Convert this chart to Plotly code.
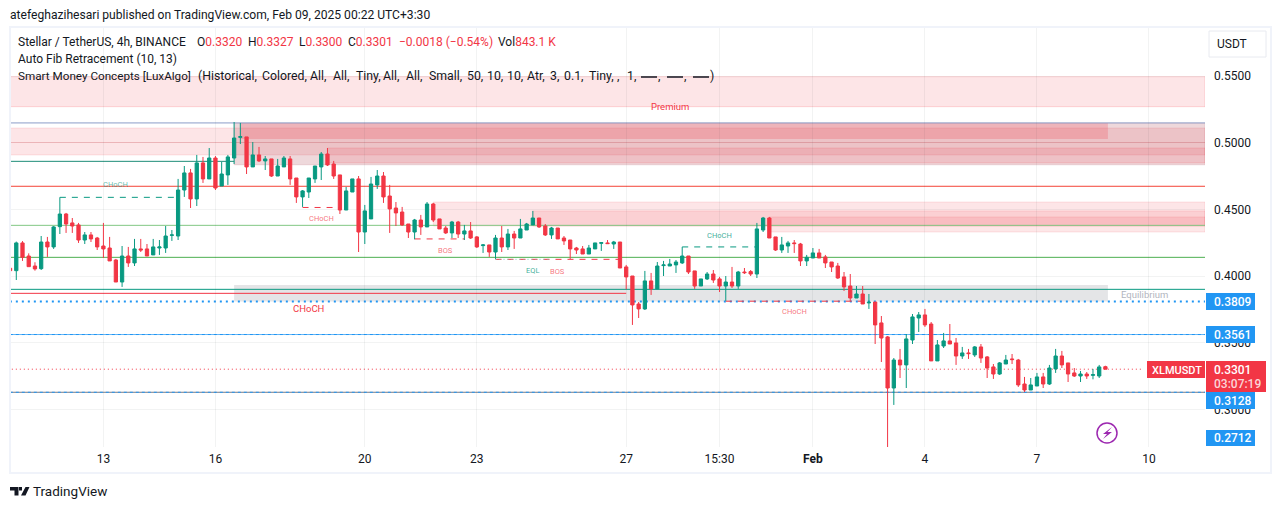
import pandas as pd
import plotly.graph_objects as go

W, H = 1281, 509
GREEN, RED, BLUE = "#089981", "#F23645", "#2196F3"

# 4h candles, Stellar / TetherUS
opens = [.4058,.4040,.4248,.4150,.4075,.4055,.4255,.4218,.4370,.4465,.4398,.4383,.4270,.4308,.4285,.4225,.4210,.4120,.3955,.4150,
.4098,.4203,.4203,.4158,.4210,.4210,.4305,.4300,.4645,.4773,.4578,.4848,.4728,.4885,.4675,.4758,.4885,.5040,.5043,.4818,
.4908,.4863,.4878,.4750,.4818,.4878,.4735,.4593,.4630,.4728,.4818,.4915,.4840,.4758,.4495,.4630,.4728,.4330,.4428,.4683,
.4750,.4600,.4510,.4480,.4390,.4330,.4420,.4368,.4540,.4428,.4360,.4323,.4405,.4315,.4338,.4293,.4228,.4233,.4180,.4285,
.4218,.4315,.4285,.4345,.4383,.4435,.4375,.4308,.4360,.4285,.4270,.4210,.4203,.4165,.4203,.4245,.4248,.4240,.4255,.4068,
.4000,.3790,.3753,.3963,.3903,.4078,.4075,.4083,.4098,.4150,.4038,.3925,.3978,.4015,.3978,.3925,.3955,.3925,.4030,.4033,
.4015,.4345,.4435,.4293,.4195,.4225,.4248,.4240,.4113,.4135,.4173,.4143,.4105,.4075,.3993,.3925,.3835,.3865,.3798,.3805,
.3648,.3543,.3160,.3370,.3333,.3520,.3685,.3708,.3640,.3363,.3475,.3513,.3498,.3400,.3423,.3408,.3468,.3393,.3318,.3265,
.3340,.3378,.3370,.3190,.3145,.3175,.3243,.3190,.3303,.3400,.3348,.3273,.3250,.3265,.3255,.3250,.3320]
highs = [.4060,.4258,.4262,.4170,.4103,.4300,.4293,.4375,.4590,.4473,.4435,.4398,.4330,.4330,.4293,.4398,.4293,.4128,.4225,.4218,
.4278,.4278,.4240,.4278,.4270,.4375,.4345,.4728,.4825,.4803,.4908,.4893,.4960,.4900,.4855,.4908,.5155,.5148,.5043,.5005,
.4968,.4900,.4878,.4878,.4900,.4900,.4735,.4645,.4735,.4825,.4930,.4960,.4863,.4758,.4668,.4728,.4750,.4533,.4743,.4795,
.4780,.4683,.4555,.4518,.4390,.4428,.4458,.4555,.4548,.4428,.4375,.4413,.4413,.4383,.4405,.4300,.4240,.4233,.4308,.4375,
.4353,.4338,.4428,.4398,.4488,.4435,.4390,.4368,.4360,.4300,.4270,.4218,.4225,.4233,.4248,.4255,.4270,.4263,.4255,.4083,
.4000,.3805,.4038,.4023,.4105,.4113,.4128,.4120,.4218,.4150,.4038,.3978,.4030,.4045,.3993,.4000,.4068,.4038,.4060,.4045,
.4398,.4443,.4443,.4293,.4293,.4263,.4270,.4248,.4158,.4210,.4203,.4158,.4105,.4098,.4030,.4015,.3925,.3925,.3865,.3805,
.3700,.3550,.3385,.3453,.3565,.3715,.3730,.3753,.3655,.3520,.3573,.3640,.3535,.3468,.3453,.3475,.3490,.3400,.3340,.3355,
.3408,.3415,.3378,.3243,.3235,.3273,.3273,.3333,.3453,.3438,.3348,.3310,.3288,.3280,.3303,.3333,.3327]
lows = [.4035,.3970,.4113,.4070,.4040,.4045,.4143,.4203,.4315,.4323,.4323,.4248,.4240,.4255,.4195,.4135,.4113,.3955,.3918,.4068,
.4075,.4180,.4150,.4158,.4158,.4173,.4263,.4270,.4593,.4510,.4525,.4698,.4728,.4645,.4675,.4683,.4840,.4990,.4765,.4818,
.4855,.4795,.4743,.4750,.4818,.4683,.4548,.4518,.4585,.4698,.4720,.4825,.4728,.4465,.4495,.4630,.4180,.4240,.4428,.4653,
.4548,.4323,.4375,.4375,.4285,.4275,.4308,.4368,.4405,.4353,.4315,.4285,.4285,.4270,.4278,.4210,.4173,.4143,.4128,.4180,
.4195,.4203,.4285,.4345,.4383,.4360,.4300,.4278,.4278,.4233,.4128,.4165,.4165,.4165,.4203,.4188,.4240,.4203,.4060,.3900,
.3633,.3685,.3745,.3858,.3903,.4000,.4075,.4023,.4090,.4015,.3903,.3925,.3970,.3948,.3880,.3813,.3910,.3903,.4015,.4000,
.3985,.4330,.4285,.4188,.4173,.4173,.4173,.4075,.4075,.4135,.4135,.4060,.4030,.3978,.3888,.3813,.3835,.3790,.3753,.3490,
.3355,.2712,.3033,.3235,.3160,.3490,.3580,.3618,.3363,.3363,.3460,.3490,.3333,.3378,.3378,.3393,.3348,.3235,.3228,.3258,
.3340,.3340,.3168,.3130,.3145,.3175,.3160,.3183,.3273,.3310,.3205,.3243,.3205,.3228,.3225,.3235,.3300]
closes = [.4040,.4248,.4140,.4070,.4053,.4255,.4218,.4368,.4465,.4390,.4375,.4270,.4308,.4278,.4218,.4203,.4113,.3955,.4150,.4098,
.4203,.4195,.4150,.4218,.4218,.4300,.4308,.4645,.4773,.4578,.4848,.4728,.4885,.4660,.4765,.4893,.5035,.5045,.4818,.4908,
.4863,.4878,.4750,.4825,.4885,.4728,.4593,.4638,.4735,.4825,.4915,.4833,.4750,.4495,.4638,.4728,.4330,.4488,.4690,.4750,
.4593,.4503,.4473,.4383,.4330,.4420,.4368,.4540,.4420,.4353,.4323,.4405,.4315,.4338,.4285,.4218,.4233,.4180,.4285,.4218,
.4315,.4285,.4353,.4390,.4435,.4368,.4308,.4360,.4278,.4263,.4203,.4195,.4165,.4210,.4248,.4250,.4243,.4255,.4060,.3993,
.3783,.3753,.3963,.3903,.4075,.4083,.4090,.4105,.4150,.4030,.3925,.3978,.4015,.3970,.3925,.3955,.3925,.4030,.4025,.4015,
.4353,.4435,.4285,.4195,.4233,.4248,.4243,.4113,.4140,.4173,.4135,.4098,.4068,.3985,.3918,.3835,.3865,.3790,.3803,.3633,
.3535,.3160,.3370,.3333,.3528,.3693,.3708,.3633,.3363,.3483,.3513,.3490,.3400,.3423,.3418,.3468,.3385,.3310,.3265,.3348,
.3370,.3373,.3183,.3145,.3183,.3243,.3190,.3310,.3400,.3333,.3265,.3250,.3265,.3250,.3260,.3318,.3301]

tick_bars = [15, 33, 57, 75, 99, 114, 129, 147, 165, 183]
tick_text = ["13", "16", "20", "23", "27", "15:30", "<b>Feb</b>", "4", "7", "10"]
price_ticks = [0.55, 0.50, 0.45, 0.40, 0.35, 0.30]

# full-width and partial levels: start bar, end bar, price, colour, width, dash
levels = [
    (-1, 192, .5148, "#8C9CC8", 1, "solid"),
    (-1, 36, .4860, "#1C8C77", 1, "solid"),
    (-1, 192, .4673, "#F44336", 1, "solid"),
    (-1, 192, .4380, "#81C784", 1, "solid"),
    (-1, 192, .4140, "#4CAF50", 1, "solid"),
    (-1, 192, .3900, GREEN, 1, "solid"),
    (-1, 99, .3870, RED, 1, "solid"),
    (-1, 192, .3809, BLUE, 2, "2px,4px"),
    (-1, 192, .3561, "#64B5F6", 1, "solid"),
    (-1, 192, .3561, BLUE, 1, "3px,3px"),
    (-1, 192, .3128, "#787B86", 1, "solid"),
    (-1, 192, .3128, BLUE, 1, "3px,3px"),
    (-1, 182, .3301, RED, 1, "1px,3px"),
]
# market-structure segments
structures = [
    (8, 27, .4590, GREEN), (47, 53, .4514, RED), (65, 73, .4278, RED),
    (78, 98, .4125, RED), (108, 120, .4218, GREEN), (115, 137, .3811, RED),
]
# zones: start bar, end bar, top, bottom, fill, edge
zones = [
    (-1, 192, .5495, .5270, "rgba(242,54,69,0.13)", "rgba(242,54,69,0.18)"),
    (-1, 192, .5110, .5001, "rgba(242,54,69,0.13)", "rgba(242,54,69,0.12)"),
    (-1, 192, .5001, .4908, "rgba(242,54,69,0.13)", "rgba(242,54,69,0.12)"),
    (36, 192, .5148, .4833, "rgba(170,60,75,0.20)", "rgba(170,60,75,0.10)"),
    (37, 176.4, .5148, .5028, "rgba(242,54,69,0.22)", "rgba(242,54,69,0.00)"),
    (51, 192, .4960, .4848, "rgba(242,54,69,0.14)", "rgba(242,54,69,0.15)"),
    (68, 192, .4555, .4375, "rgba(242,54,69,0.13)", "rgba(242,54,69,0.12)"),
    (84, 192, .4488, .4375, "rgba(242,54,69,0.12)", "rgba(242,54,69,0.12)"),
    (122, 192, .4443, .4330, "rgba(242,54,69,0.12)", "rgba(242,54,69,0.12)"),
    (36, 176.4, .3933, .3809, "rgba(120,123,134,0.20)", "rgba(120,123,134,0.0)"),
]
# smc labels: bar, price, text, colour, size
smc_labels = [
    (16.9, .4686, "CHoCH", "rgba(8,153,129,0.65)", 7.5),
    (50, .4435, "CHoCH", "rgba(242,54,69,0.7)", 7.5),
    (69.9, .4191, "BOS", "rgba(242,54,69,0.7)", 7.5),
    (84, .4041, "EQL", "rgba(8,153,129,0.8)", 7.5),
    (88, .4034, "BOS", "rgba(242,54,69,0.7)", 7.5),
    (114, .4304, "CHoCH", "rgba(8,153,129,0.8)", 7.5),
    (126, .3734, "CHoCH", "rgba(242,54,69,0.7)", 7.5),
    (47.9, .3756, "CHoCH", RED, 9.5),
    (106, .5275, "Premium", RED, 9.5),
    (182.2, .3865, "Equilibrium", "#B2B5BE", 9.5),
]
# indicator legend tokens: left edge, token
indicator_tokens = [
    (198, "(Historical,"), (262, "Colored,"), (310, "All,"), (333, "All,"),
    (356, "Tiny,"), (383, "All,"), (406, "All,"), (429, "Small,"), (467, "50,"), (487, "10,"), (507, "10,"),
    (527, "Atr,"), (550, "3,"), (564, "0.1,"), (589, "Tiny,"), (617, ","), (627, "1,"),
]

T0 = pd.Timestamp("2025-01-27 00:00")
def bar_time(i):
    return T0 + pd.Timedelta(hours=4 * (i - 99))

dates = [bar_time(i) for i in range(len(opens))]
px = lambda x: x / W
py = lambda y: 1 - y / H
FONT = "Roboto"
TXT = "#131722"
GRID = "rgba(42,46,57,0.06)"

fig = go.Figure(go.Candlestick(
    x=dates, open=opens, high=highs, low=lows, close=closes,
    increasing=dict(line=dict(color=GREEN, width=1), fillcolor=GREEN),
    decreasing=dict(line=dict(color=RED, width=1), fillcolor=RED),
    whiskerwidth=0, hoverinfo="skip",
))

shapes, ann = [], []
for a, b, top, bot, fill, edge in zones:
    shapes.append(dict(type="rect", xref="x", yref="y", x0=bar_time(a), x1=bar_time(b), y0=bot, y1=top,
                       fillcolor=fill, line=dict(color=edge, width=1), layer="below"))
for a, b, p, c, w, d in levels:
    shapes.append(dict(type="line", xref="x", yref="y", x0=bar_time(a), x1=bar_time(b), y0=p, y1=p,
                       line=dict(color=c, width=w, dash=d), layer="below"))
for a, b, p, c in structures:
    shapes.append(dict(type="line", xref="x", yref="y", x0=bar_time(a), x1=bar_time(b), y0=p, y1=p,
                       line=dict(color=c, width=1, dash="6px,6px"), layer="below"))
shapes.append(dict(type="line", xref="x", yref="y", x0=bar_time(78), x1=bar_time(87), y0=.4125, y1=.4125,
                   line=dict(color="#80CBC4", width=1, dash="1px,3px"), layer="below"))

for i, p, t, c, s in smc_labels:
    ann.append(dict(x=bar_time(i), y=p, xref="x", yref="y", text=t, showarrow=False,
                    font=dict(family=FONT, size=s, color=c)))

def ptext(x, y, t, size=12, color=TXT, anchor="left", **kw):
    ann.append(dict(x=px(x), y=py(y), xref="paper", yref="paper", text=t, showarrow=False, xanchor=anchor,
                    yanchor="middle", align="left", xshift=-2 if anchor == "left" else 0,
                    font=dict(family=FONT, size=size, color=color, **kw)))

ptext(10, 15, "atefeghazihesari published on TradingView.com, Feb 09, 2025 00:22 UTC+3:30", 12.1)
ptext(18, 42, "Stellar / TetherUS, 4h, BINANCE")
for x, lab, val in [(197, "O", "0.3320"), (248, "H", "0.3327"), (299, "L", "0.3300"), (348, "C", "0.3301")]:
    ptext(x, 42, f'{lab}<span style="color:{RED}">{val}</span>')
ptext(399, 42, "−0.0018 (−0.54%)", 12, RED)
ptext(498, 42, f'Vol<span style="color:{RED}">843.1 K</span>')
ptext(18, 59, "Auto Fib Retracement (10, 13)")
ptext(18, 76, "Smart Money Concepts [LuxAlgo]", 11.7)
for x, t in indicator_tokens:
    ptext(x, 76, t, 12.3)
for x0, x1, t in [(641, 657, ","), (667, 683, ","), (693, 709, ")")]:
    shapes.append(dict(type="line", xref="paper", yref="paper", x0=px(x0), x1=px(x1), y0=py(77), y1=py(77),
                       line=dict(color=TXT, width=1.5)))
    ptext(x1 + 1, 76, t, 12.3)
ptext(33, 491, "TradingView", 13.5)
ptext(1232, 44, "USDT", 12, anchor="center")

# frame, price tags
def prect(x0, y0, x1, y1, fill="rgba(0,0,0,0)", line=None, lw=0):
    shapes.append(dict(type="rect", xref="paper", yref="paper", x0=px(x0), x1=px(x1), y0=py(y1), y1=py(y0),
                       fillcolor=fill, line=dict(color=line or fill, width=lw)))

prect(10, 27, 1271, 473, line="#F0F3FA", lw=2)
prect(1209, 31, 1266, 57, fill="#FFFFFF", line="#E8EAF0", lw=1)
tags = [("0.3809", 293, 310), ("0.3561", 326, 343), ("0.3128", 392, 409), ("0.2712", 430, 446)]
for t, y0, y1 in tags:
    prect(1206, y0, 1255, y1, fill=BLUE)
    ptext(1214, (y0 + y1) / 2, t, 12, "#FFFFFF", weight=500)
prect(1206, 361, 1266, 392, fill=RED)
prect(1147, 361, 1205, 378, fill=RED)
ptext(1152, 370, "XLMUSDT", 11, "#FFFFFF", weight=500)
ptext(1214, 370, "0.3301", 12, "#FFFFFF", weight=500)
ptext(1214, 383.5, "03:07:19", 12, "#FBD5D8", weight=500)

# flash icon and logo
shapes.append(dict(type="circle", xref="paper", yref="paper", x0=px(1097), x1=px(1117), y0=py(443), y1=py(423),
                   line=dict(color="#9C27B0", width=1.5)))
def ppath(pts, fill):
    d = "M" + " L".join(f"{px(x):.5f},{py(y):.5f}" for x, y in pts) + " Z"
    shapes.append(dict(type="path", xref="paper", yref="paper", path=d, fillcolor=fill, line=dict(width=0)))
ppath([(1112, 427), (1103, 434), (1107, 434), (1103, 439), (1112, 432), (1107.5, 432)], "#9C27B0")
ppath([(10, 487), (18.5, 487), (18.5, 495.5), (14.5, 495.5), (14.5, 490.5), (10, 490.5)], TXT)
ppath([(19, 487), (22, 487), (22, 490.5), (19, 490.5)], TXT)
ppath([(21, 495.5), (25.5, 487), (29.5, 487), (25.5, 495.5)], TXT)

fig.update_layout(
    width=W, height=H, autosize=False,
    margin=dict(l=0, r=0, t=0, b=0),
    paper_bgcolor="#FFFFFF", plot_bgcolor="#FFFFFF",
    showlegend=False, boxgap=0.25,
    shapes=shapes, annotations=ann,
    xaxis=dict(domain=[px(10), px(1205)], type="date", rangeslider=dict(visible=False),
               range=[bar_time(-0.01), bar_time(192)],
               tickmode="array", tickvals=[bar_time(i) for i in tick_bars], ticktext=tick_text,
               showgrid=True, gridcolor=GRID, gridwidth=1, zeroline=False, showline=False, ticks="",
               ticklabelstandoff=3, tickfont=dict(family=FONT, size=12, color=TXT), tickangle=0),
    yaxis=dict(domain=[py(447), py(27)], side="right", range=[.27175, .58675],
               tickmode="array", tickvals=price_ticks, ticktext=[f"{v:.4f}" for v in price_ticks],
               showgrid=True, gridcolor=GRID, gridwidth=1, zeroline=False, showline=False, ticks="",
               ticklabelstandoff=8, tickfont=dict(family=FONT, size=12, color=TXT)),
)

fig.write_html("out.html", config=dict(displayModeBar=False),
               post_script="document.body.style.margin='0';document.body.style.overflow='hidden';")
